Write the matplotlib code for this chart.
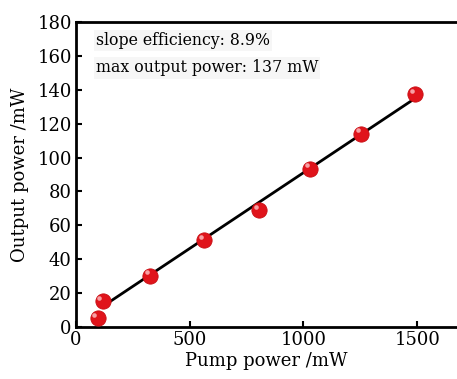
import numpy as np
import matplotlib
matplotlib.use("Agg")
import matplotlib.pyplot as plt
from matplotlib.transforms import offset_copy

# measured points (pump power, output power)
pump = [95, 117, 325, 563, 805, 1029, 1252, 1491]
output = [5.2, 15.3, 30.3, 51.2, 68.9, 93.4, 114.1, 137.3]
xticks = [0, 500, 1000, 1500]
yticks = [0, 20, 40, 60, 80, 100, 120, 140, 160, 180]
notes = ["slope efficiency: 8.9%", "max output power: 137 mW"]

plt.rcParams['font.family'] = ['DejaVu Serif']
plt.rcParams['mathtext.fontset'] = 'dejavuserif'

fig = plt.figure(figsize=(4.57, 3.79), dpi=100)
ax = fig.add_axes([0.1663, 0.1372, 0.8337, 0.805])

# linear fit over points above threshold
k, b = np.polyfit(pump[1:], output[1:], 1)
fx = np.array([pump[1], pump[-1]])
ax.plot(fx, k * fx + b, color='black', lw=2, zorder=2)

# sphere-like markers
ax.plot(pump, output, 'o', ms=11, color='#e0141b', mec='#c80e14', mew=0.6, zorder=3)
hl = offset_copy(ax.transData, fig=fig, x=-2.3, y=2.3, units='points')
ax.plot(pump, output, 'o', ms=3.3, color='#f7a0a4', mec='none', transform=hl, zorder=4)

ax.set_xlim(0, 1675)
ax.set_ylim(0, 180)
ax.set_xticks(xticks)
ax.set_yticks(yticks)
ax.tick_params(direction='in', length=4, width=1.5, labelsize=13, pad=3)
for s in ['left', 'bottom', 'top']:
    ax.spines[s].set_linewidth(2)
ax.spines['right'].set_visible(False)

ax.set_xlabel("Pump power /mW", fontsize=13, labelpad=2)
ax.set_ylabel("Output power /mW", fontsize=13, labelpad=6)

for i, t in enumerate(notes):
    ax.text(0.052, 0.938 - i * 0.089, t, transform=ax.transAxes, fontsize=11.3,
            va='center', ha='left',
            bbox=dict(facecolor='#f6f6f6', edgecolor='none', pad=1.5))

fig.savefig("out.png", dpi=100)
